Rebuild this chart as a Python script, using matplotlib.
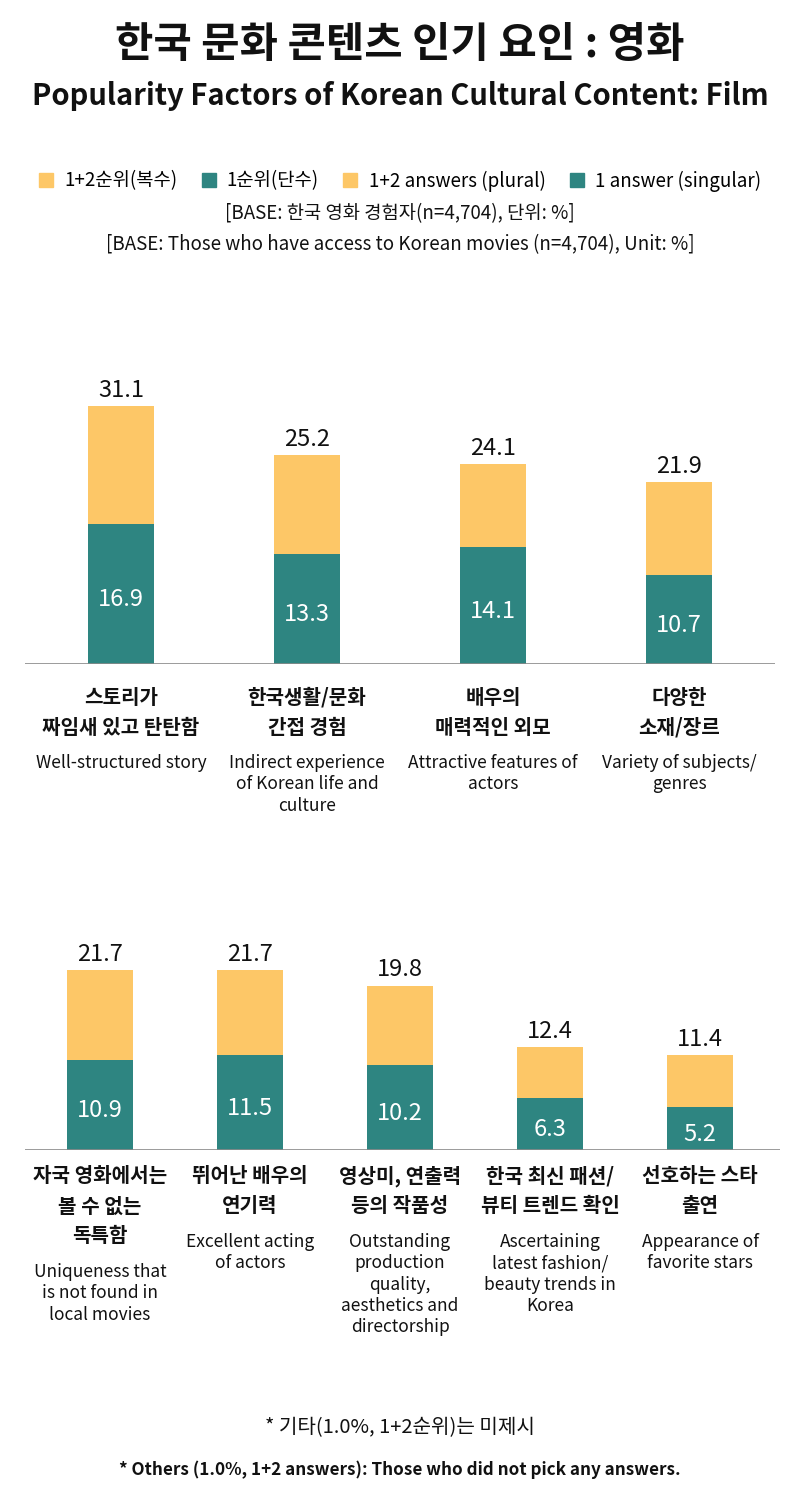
import matplotlib.pyplot as plt
from matplotlib.patches import Patch

plt.rcParams['font.family'] = ['Noto Sans CJK KR', 'DejaVu Sans']

YELLOW = "#FDC767"
TEAL = "#2E8581"

# top row
top_ko = ["스토리가\n짜임새 있고 탄탄함", "한국생활/문화\n간접 경험", "배우의\n매력적인 외모", "다양한\n소재/장르"]
top_en = ["Well-structured story", "Indirect experience\nof Korean life and\nculture",
          "Attractive features of\nactors", "Variety of subjects/\ngenres"]
top_total = [31.1, 25.2, 24.1, 21.9]
top_single = [16.9, 13.3, 14.1, 10.7]

# bottom row
bot_ko = ["자국 영화에서는\n볼 수 없는\n독특함", "뛰어난 배우의\n연기력", "영상미, 연출력\n등의 작품성",
          "한국 최신 패션/\n뷰티 트렌드 확인", "선호하는 스타\n출연"]
bot_en = ["Uniqueness that\nis not found in\nlocal movies", "Excellent acting\nof actors",
          "Outstanding\nproduction\nquality,\naesthetics and\ndirectorship",
          "Ascertaining\nlatest fashion/\nbeauty trends in\nKorea", "Appearance of\nfavorite stars"]
bot_total = [21.7, 21.7, 19.8, 12.4, 11.4]
bot_single = [10.9, 11.5, 10.2, 6.3, 5.2]

W, H = 800, 1500
fig = plt.figure(figsize=(8, 15), dpi=100)
fig.patch.set_facecolor("white")


def px_axes(left, right, base, height):
    # rectangle in pixel coords measured from the top
    return fig.add_axes([left / W, (H - base) / H, (right - left) / W, height / H])


def label_line(ax, i, s, dy, **kw):
    ax.annotate(s, (i, 0), xytext=(0, -dy), textcoords="offset pixels", ha="center",
                va="center", color="#111111", annotation_clip=False, **kw)


def draw_row(ax, ko, en, total, single, xlim, width, ko_off):
    x = list(range(len(total)))
    ax.bar(x, total, width=width, color=YELLOW, zorder=2)
    ax.bar(x, single, width=width, color=TEAL, zorder=3)
    ax.set_xlim(*xlim)
    ax.set_ylim(0, 40)
    ax.axis("off")
    ax.axhline(0, color="#8a8a8a", lw=1.2, zorder=4)
    for i in x:
        ax.annotate(f"{total[i]:.1f}", (i, total[i]), xytext=(0, 3), textcoords="offset points",
                    ha="center", va="bottom", fontsize=17, color="#111111", fontweight="medium")
        ax.text(i, single[i] / 2 - 0.7, f"{single[i]:.1f}", ha="center", va="center",
                fontsize=17, color="white", fontweight="medium", zorder=5)
        dy = ko_off
        for line in ko[i].split("\n"):
            label_line(ax, i, line, dy, fontsize=14.5, fontweight="bold")
            dy += 30
        dy += 6
        for line in en[i].split("\n"):
            label_line(ax, i, line, dy, fontsize=12.5)
            dy += 21.3


ax1 = px_axes(25, 775, 664, 332)
draw_row(ax1, top_ko, top_en, top_total, top_single, (-0.516, 3.516), 0.355, 33)

ax2 = px_axes(25, 780, 1150, 332)
draw_row(ax2, bot_ko, bot_en, bot_total, bot_single, (-0.5, 4.533), 0.44, 26)

fig.text(0.5, 1 - 45 / H, "한국 문화 콘텐츠 인기 요인 : 영화", ha="center", va="center",
         fontsize=30, fontweight="bold", color="#111111")
fig.text(0.5, 1 - 96 / H, "Popularity Factors of Korean Cultural Content: Film", ha="center",
         va="center", fontsize=21, fontweight="bold", color="#111111")

handles = [Patch(color=YELLOW), Patch(color=TEAL), Patch(color=YELLOW), Patch(color=TEAL)]
labels = ["1+2순위(복수)", "1순위(단수)", "1+2 answers (plural)", "1 answer (singular)"]
fig.legend(handles, labels, loc="center", bbox_to_anchor=(0.5, 1 - 181 / H), ncol=4,
           frameon=False, fontsize=13.5, handlelength=0.75, handleheight=0.75,
           handletextpad=0.6, columnspacing=1.3)

fig.text(0.5, 1 - 214 / H, "[BASE: 한국 영화 경험자(n=4,704), 단위: %]", ha="center", va="center",
         fontsize=13.5, color="#111111")
fig.text(0.5, 1 - 245 / H, "[BASE: Those who have access to Korean movies (n=4,704), Unit: %]",
         ha="center", va="center", fontsize=13.5, fontweight="medium", color="#111111")

fig.text(0.5, 1 - 1428 / H, "* 기타(1.0%, 1+2순위)는 미제시", ha="center", va="center",
         fontsize=14.5, color="#111111")
fig.text(0.5, 1 - 1470 / H, "* Others (1.0%, 1+2 answers): Those who did not pick any answers.",
         ha="center", va="center", fontsize=12.3, fontweight="bold", color="#111111")

fig.savefig("out.png", dpi=100, facecolor="white")
